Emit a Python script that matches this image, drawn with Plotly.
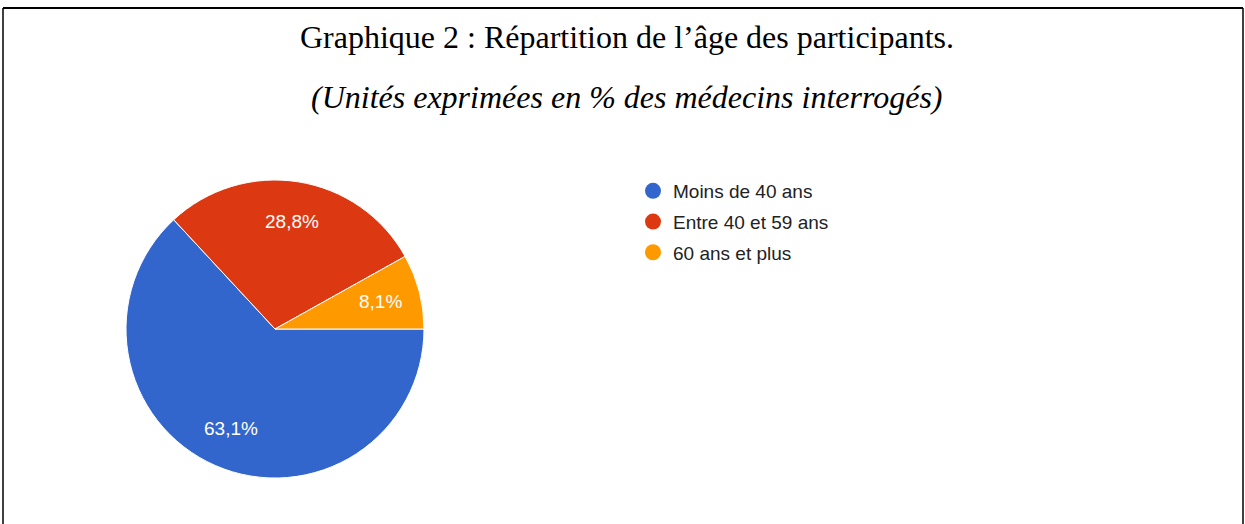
import math
import plotly.graph_objects as go

categories = ["Moins de 40 ans", "Entre 40 et 59 ans", "60 ans et plus"]
values = [63.1, 28.8, 8.1]
labels_txt = ["63,1%", "28,8%", "8,1%"]
colors = ["#3366cc", "#dc3912", "#ff9900"]

W, H = 1245, 524
CX, CY, R = 275, 329, 149  # pie geometry in px
LABEL_R = 0.73             # label distance as fraction of radius

fig = go.Figure()
fig.add_trace(go.Pie(
    labels=categories, values=values, textinfo="none",
    sort=False, direction="clockwise", rotation=90,
    marker=dict(colors=colors, line=dict(color="white", width=1)),
    showlegend=False, hoverinfo="label+percent",
    domain=dict(x=[(CX - R) / W, (CX + R) / W], y=[1 - (CY + R) / H, 1 - (CY - R) / H]),
))
for i, (c, col) in enumerate(zip(categories, colors)):
    fig.add_trace(go.Scatter(
        x=[None], y=[None], mode="markers", name=c, legendgroup=f"g{i}",
        marker=dict(symbol="circle", size=18, color=col), showlegend=True,
    ))

# slice labels placed from the cumulative values
annotations = []
total = sum(values)
cum = 0.0
for v, t in zip(values, labels_txt):
    mid = (cum + v / 2) / total * 2 * math.pi
    cum += v
    px = CX + LABEL_R * R * math.cos(mid)
    py = CY + LABEL_R * R * math.sin(mid)
    annotations.append(dict(
        text=t, x=px / W, y=1 - py / H, xref="paper", yref="paper",
        xanchor="center", yanchor="middle", showarrow=False,
        font=dict(family="Liberation Sans, Arial, sans-serif", size=19, color="white"),
    ))

annotations += [
    dict(text="Graphique 2 : Répartition de l’âge des participants.", x=627 / W, y=1 - 37 / H,
         xref="paper", yref="paper", xanchor="center", yanchor="middle", showarrow=False,
         font=dict(family="Liberation Serif, Times New Roman, serif", size=32, color="black")),
    dict(text="<i>(Unités exprimées en % des médecins interrogés)</i>", x=627 / W, y=1 - 97 / H,
         xref="paper", yref="paper", xanchor="center", yanchor="middle", showarrow=False,
         font=dict(family="Liberation Serif, Times New Roman, serif", size=32, color="black")),
]

fig.update_layout(
    width=W, height=H, margin=dict(l=0, r=0, t=0, b=0),
    paper_bgcolor="white", plot_bgcolor="white",
    xaxis=dict(visible=False), yaxis=dict(visible=False),
    legend=dict(x=633 / W, y=1 - 172 / H, xanchor="left", yanchor="top",
                font=dict(family="Liberation Sans, Arial, sans-serif", size=19, color="#222222"),
                tracegroupgap=3, bgcolor="rgba(0,0,0,0)"),
    annotations=annotations,
    shapes=[
        dict(type="line", xref="paper", yref="paper", x0=3 / W, x1=1243 / W, y0=1 - 8 / H, y1=1 - 8 / H,
             line=dict(color="black", width=2)),
        dict(type="line", xref="paper", yref="paper", x0=3 / W, x1=3 / W, y0=0, y1=1 - 8 / H,
             line=dict(color="black", width=1.5)),
        dict(type="line", xref="paper", yref="paper", x0=1243 / W, x1=1243 / W, y0=0, y1=1 - 8 / H,
             line=dict(color="black", width=1.5)),
    ],
)
fig.write_html("out.html", config={"displayModeBar": False},
               post_script="document.body.style.margin='0px';")
